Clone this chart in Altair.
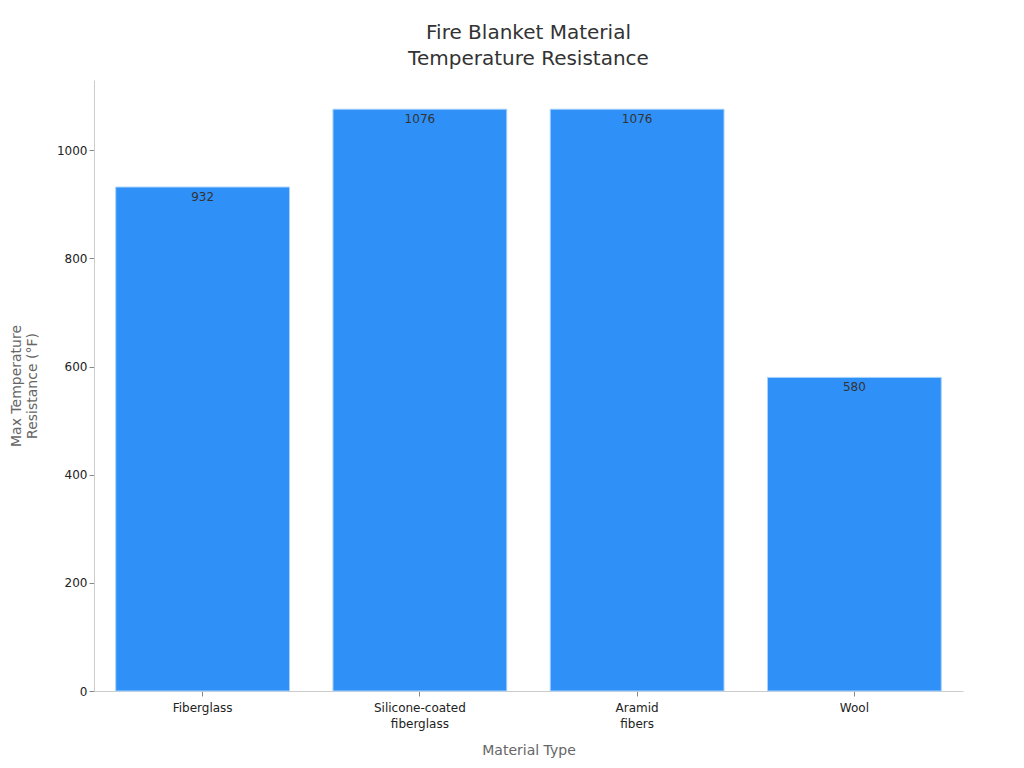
import altair as alt
import pandas as pd

materials = ["Fiberglass", "Silicone-coated\nfiberglass", "Aramid\nfibers", "Wool"]
temps = [932, 1076, 1076, 580]

df = pd.DataFrame({"Material": materials, "Temp": temps})

base = alt.Chart(df).encode(
    x=alt.X("Material:N", sort=materials,
            scale=alt.Scale(paddingInner=0.2, paddingOuter=0.1),
            axis=alt.Axis(title="Material Type", labelAngle=0,
                          labelExpr="split(datum.label, '\\n')",
                          labelFontSize=12, labelColor="#222", labelLineHeight=16,
                          titleFontSize=14, titleColor="#666", titleFontWeight="normal",
                          titlePadding=14, labelPadding=6,
                          domainColor="#ccc", tickColor="#888", tickSize=5)),
    y=alt.Y("Temp:Q", scale=alt.Scale(domain=[0, 1130], nice=False),
            axis=alt.Axis(title=["Max Temperature", "Resistance (°F)"], format="d",
                          values=[0, 200, 400, 600, 800, 1000],
                          labelFontSize=12, labelColor="#222",
                          titleFontSize=14, titleColor="#666", titleFontWeight="normal",
                          titlePadding=17, grid=False,
                          domainColor="#ccc", tickColor="#888", tickSize=5)),
)

bars = base.mark_bar(color="#2f91f8", stroke="#a9d2fb", strokeWidth=1)
labels = base.mark_text(baseline="top", dy=5, fontSize=12, color="#333", font="DejaVu Sans").encode(
    text=alt.Text("Temp:Q"))

chart = (bars + labels).properties(
    width=869, height=611,
    padding={"left": 1, "top": 15, "right": 8, "bottom": 8},
    title=alt.Title(["Fire Blanket Material", "Temperature Resistance"],
                    fontSize=20, fontWeight="normal", color="#333", anchor="middle",
                    font="DejaVu Sans", offset=11, lineHeight=26),
).configure(font="DejaVu Sans").configure_view(stroke=None)

chart.save("out.html", embed_options={"renderer": "svg", "actions": False})
